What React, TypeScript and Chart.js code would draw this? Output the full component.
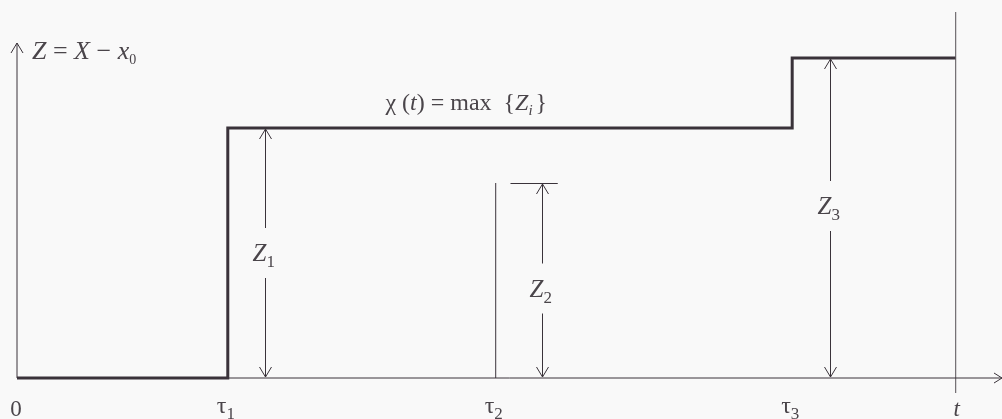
import React, { useEffect, useRef } from "react";
import { Chart, registerables } from "chart.js";

Chart.register(...registerables);

// Jump times of the process and the observation time t
const jumpTimes = [2.14, 4.86, 7.87];
const jumpLabels = ["τ", "τ", "τ"];
const jumpSubs = ["1", "2", "3"];
const jumpSizes = [25.0, 19.5, 32.0]; // Z1, Z2, Z3
const obsTime = 9.53;
const xMax = 10.0;
const yMax = 37.8;
const yAxisTop = 33.5;

// Running maximum χ(t) = max{Z_i}, as a step sequence
const stepX = [0, jumpTimes[0], jumpTimes[0], jumpTimes[2], jumpTimes[2], obsTime];
const stepY = [0, 0, jumpSizes[0], jumpSizes[0], jumpSizes[2], jumpSizes[2]];

const INK = "#3a333a";
const TEXT = "#4a454a";
const SERIF = '"Liberation Serif", "DejaVu Serif", serif';

const pts = (xs: number[], ys: number[]) => xs.map((x, i) => ({ x, y: ys[i] }));

const labelsPlugin = {
  id: "diagramLabels",
  afterDatasetsDraw(chart: any) {
    const { ctx, scales } = chart;
    const X = (v: number) => scales.x.getPixelForValue(v);
    const Y = (v: number) => scales.y.getPixelForValue(v);
    ctx.save();
    ctx.strokeStyle = INK;
    ctx.fillStyle = TEXT;
    ctx.lineWidth = 1;

    const head = (x: number, y: number, dir: number) => {
      ctx.beginPath();
      ctx.moveTo(x - 6, y + dir * 10);
      ctx.lineTo(x, y);
      ctx.lineTo(x + 6, y + dir * 10);
      ctx.stroke();
    };

    // axis arrowheads
    head(X(0), Y(yAxisTop), 1);
    ctx.beginPath();
    ctx.moveTo(X(xMax) - 8, Y(0) - 5);
    ctx.lineTo(X(xMax), Y(0));
    ctx.lineTo(X(xMax) - 8, Y(0) + 5);
    ctx.stroke();

    // double arrows for the jump sizes, with a gap for the label
    const arrowOffsets = [0.38, 0.47, 0.38];
    const labelShift = [0, 8, -12];
    jumpTimes.forEach((tau, i) => {
      const ax = Math.round(X(tau + arrowOffsets[i])) + 0.5;
      const top = Y(jumpSizes[i]) + 1;
      const bot = Y(0) - 1;
      const mid = (top + bot) / 2 + labelShift[i];
      const gap = 25;
      ctx.beginPath();
      ctx.moveTo(ax, top);
      ctx.lineTo(ax, mid - gap);
      ctx.moveTo(ax, mid + gap);
      ctx.lineTo(ax, bot);
      ctx.stroke();
      head(ax, top, 1);
      head(ax, bot, -1);
      // label Z_i
      ctx.font = `italic 25px ${SERIF}`;
      ctx.textBaseline = "alphabetic";
      ctx.textAlign = "left";
      const zw = ctx.measureText("Z").width;
      ctx.fillText("Z", ax - 13, mid + 8);
      ctx.font = `17px ${SERIF}`;
      ctx.fillText(jumpSubs[i], ax - 13 + zw, mid + 14);
    });

    // tick at height Z2
    const t2 = jumpTimes[1];
    ctx.beginPath();
    ctx.moveTo(X(t2 + 0.15), Math.round(Y(jumpSizes[1])) + 0.5);
    ctx.lineTo(X(t2 + 0.63), Math.round(Y(jumpSizes[1])) + 0.5);
    ctx.stroke();

    // time labels below the axis
    const below = Y(0) + 38;
    ctx.font = `23px ${SERIF}`;
    ctx.textAlign = "center";
    ctx.fillText("0", X(0) - 1, below);
    jumpTimes.forEach((tau, i) => {
      ctx.font = `24px ${SERIF}`;
      ctx.textAlign = "left";
      const w = ctx.measureText(jumpLabels[i]).width;
      const lx = X(tau) - 11;
      ctx.fillText(jumpLabels[i], lx, below - 3);
      ctx.font = `17px ${SERIF}`;
      ctx.fillText(jumpSubs[i], lx + w, below + 3);
    });
    ctx.font = `italic 23px ${SERIF}`;
    ctx.textAlign = "center";
    ctx.fillText("t", X(obsTime) + 1, below);

    // axis title
    ctx.textAlign = "left";
    let x = X(0) + 15;
    const ty = Y(yAxisTop) + 16;
    const seg = (s: string, font: string, dy = 0) => {
      ctx.font = font;
      ctx.fillText(s, x, ty + dy);
      x += ctx.measureText(s).width;
    };
    seg("Z", `italic 26px ${SERIF}`);
    seg(" = ", `26px ${SERIF}`);
    seg("X", `italic 26px ${SERIF}`);
    seg(" − ", `26px ${SERIF}`);
    seg("x", `italic 26px ${SERIF}`);
    seg("0", `14px ${SERIF}`, 5);

    // running-maximum caption
    x = X(3.74);
    const cy = Y(jumpSizes[0]) - 18;
    const cseg = (s: string, font: string, dy = 0) => {
      ctx.font = font;
      ctx.fillText(s, x, cy + dy);
      x += ctx.measureText(s).width;
    };
    cseg("χ", `24px ${SERIF}`);
    cseg(" (", `24px ${SERIF}`);
    cseg("t", `italic 24px ${SERIF}`);
    cseg(") = max  {", `24px ${SERIF}`);
    cseg("Z", `italic 24px ${SERIF}`);
    cseg("i", `italic 15px ${SERIF}`, 5);
    x += 3;
    cseg("}", `24px ${SERIF}`);

    ctx.restore();
  },
};

const background = {
  id: "paper",
  beforeDraw(chart: any) {
    const { ctx, width, height } = chart;
    ctx.save();
    ctx.fillStyle = "#f9f9f9";
    ctx.fillRect(0, 0, width, height);
    ctx.restore();
  },
};

export default function App() {
  const ref = useRef<HTMLCanvasElement | null>(null);

  useEffect(() => {
    document.body.style.margin = "0";
    const thin = { borderColor: INK, borderWidth: 1, pointRadius: 0, showLine: true, fill: false };
    const chart = new Chart(ref.current!, {
      type: "scatter",
      data: {
        datasets: [
          { ...thin, data: pts([0, xMax], [0, 0]) },
          { ...thin, data: pts([0, 0], [0, yAxisTop]) },
          { ...thin, borderColor: "#555055", data: pts([obsTime, obsTime], [-1.5, 36.6]) },
          { ...thin, data: pts([jumpTimes[1], jumpTimes[1]], [0, jumpSizes[1]]) },
          {
            data: pts(stepX, stepY),
            showLine: true,
            borderColor: INK,
            borderWidth: 3,
            pointRadius: 0,
            fill: false,
            borderJoinStyle: "miter",
          },
        ],
      },
      options: {
        animation: false,
        responsive: false,
        events: [],
        layout: { padding: { left: 17, right: 0, top: 0, bottom: 41 } },
        plugins: { legend: { display: false }, tooltip: { enabled: false } },
        scales: {
          x: { type: "linear", min: 0, max: xMax, display: false },
          y: { type: "linear", min: 0, max: yMax, display: false },
        },
        clip: false,
      } as any,
      plugins: [background, labelsPlugin],
    });
    return () => chart.destroy();
  }, []);

  return <canvas ref={ref} width={1002} height={419} style={{ display: "block" }} />;
}
